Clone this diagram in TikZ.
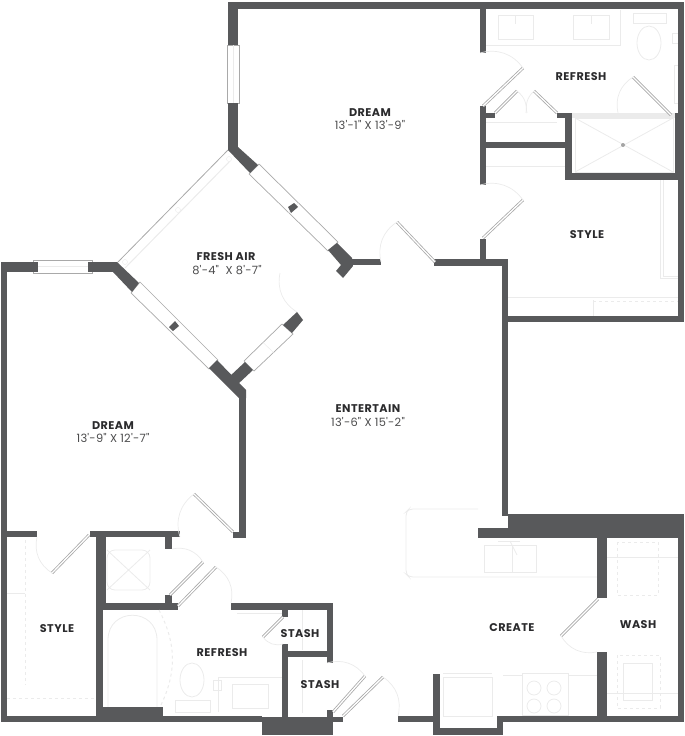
\documentclass[tikz,border=0pt]{standalone}
\usepackage{fontspec}
\newfontfamily\roomfont{Poppins}[LetterSpace=4]
\newfontfamily\sizefont{Poppins}[LetterSpace=2]
\definecolor{wallgrey}{HTML}{58595B}
\definecolor{inkgrey}{HTML}{2B2B2D}
\definecolor{leafgrey}{HTML}{A9A9A9}
\definecolor{fixgrey}{HTML}{EBEBEB}
\tikzset{
    wall/.style={fill=wallgrey,draw=none},
    leaf/.style={draw=leafgrey,double=white,double distance=1.3pt,line width=0.8pt},
    swing/.style={draw=fixgrey,line width=0.7pt},
    fix/.style={draw=fixgrey,line width=0.8pt},
    glass/.style={draw=leafgrey,fill=white,line width=0.7pt},
    roomname/.style={font=\roomfont\bfseries\fontsize{11.2}{13}\selectfont,text=inkgrey,inner sep=0pt,yshift=-1pt},
    roomsize/.style={font=\sizefont\fontsize{11.4}{13}\selectfont,text=inkgrey!85,inner sep=0pt,yshift=-1pt},
}
\newcommand{\wallbox}[2]{
    \fill[wall] (#1) rectangle (#2);
}
\newcommand{\pane}[4]{
    \draw[glass] (#1) -- (#2) -- (#3) -- (#4) -- cycle;
    \draw[fixgrey] ($(#1)!0.5!(#4)$) -- ($(#2)!0.5!(#3)$);
}
\usetikzlibrary{calc}

\begin{document}
\begin{tikzpicture}[x=1pt,y=-1pt]
    \useasboundingbox (0,0) rectangle (685,736);
    % fixtures
    \begin{scope}[fix]
        \draw (486,45) -- (620,45) -- (620,10);
        \draw (498,15) rectangle (533,39);
        \draw (573,15) rectangle (609,39);
        \draw (515,15) -- (515,24);
        \draw (591,15) -- (591,24);
        \draw (633,13) rectangle (666,23);
        \draw (649,43) ellipse (12 and 17);
        \draw (672,33) rectangle (678,43);
        \draw (674,65) rectangle (678,103);
        \fill[fixgrey] (572,113) rectangle (675,118);
        \draw (575,118) rectangle (673,172);
        \draw (575,118) -- (673,172);
        \draw (575,172) -- (673,118);
        \fill[fixgrey!70!black] (623,145) circle (2);
        \draw (486,122) -- (557,122);
        \draw (486,166) -- (565,166);
        \draw (660,180) -- (660,278) -- (678,278);
        \draw (663,180) -- (663,276) -- (678,276);
        \draw (508,297) -- (678,297);
        \draw[dashed] (593,301) -- (678,301);
        \draw (593,300) -- (593,316);
        \draw[rounded corners=4] (478,509) -- (409,509) -- (406,512) -- (406,574) -- (409,577) -- (597,577);
        \draw (484,545) rectangle (536,572);
        \draw (512,545) -- (512,572);
        \draw (498,541) -- (520,541);
        \draw (510,541) -- (517,555);
        \draw (522,673) rectangle (568,715);
        \foreach \bx in {534,554} {
            \foreach \by in {688,706} {
                \draw (\bx,\by) circle (7);
            }
        }
        \draw (503,675) -- (522,675);
        \draw (568,675) -- (597,675);
        \draw (443,677) rectangle (492,716);
        \draw (443,673) -- (492,673);
        \draw[dashed] (617,542) rectangle (658,595);
        \draw (607,557) -- (678,557);
        \draw[dashed] (617,655) rectangle (660,708);
        \draw (623,663) rectangle (652,700);
        \draw (607,693) -- (678,693);
        \draw (108,707) -- (108,640) .. controls (108,607) and (157,607) .. (157,640) -- (157,707);
        \draw (192,680) ellipse (12 and 17);
        \draw (175,700) rectangle (210,712);
        \draw (218,712) -- (218,677) -- (282,677);
        \draw (232,684) rectangle (268,708);
        \draw (213,680) rectangle (221,690);
        \draw (237,613) -- (282,613);
        \draw (302,610) -- (302,650);
        \draw (302,660) -- (302,713);
        \draw (7,593) -- (25,593);
        \draw[dashed] (25,540) -- (25,685);
        \draw[dashed] (7,698) -- (96,698);
        \draw[rounded corners=8] (107,550) rectangle (150,590);
        \draw (107,550) -- (150,590);
        \draw (107,590) -- (150,550);
    \end{scope}
    % windows
    \draw[glass] (227,45) rectangle (239,103);
    \draw[fixgrey] (233,45) -- (233,103);
    \draw[glass] (33,260) rectangle (92,273);
    \draw[fixgrey] (33,266) -- (92,266);
    \pane{140,282}{131,293}{209,369}{218,360}
    \pane{259,164}{249,174}{328,251}{338,242}
    \pane{282,324}{293,334}{254,371}{244,361}
    \draw[leafgrey,line width=0.8pt] (228,150) -- (118,262);
    \draw[fixgrey,line width=1pt] (125,268) -- (231,160);
    \draw[fixgrey,fill=white] (229,159) circle (2.5);
    \draw[fixgrey,fill=white] (178,210) circle (2.5);
    \draw[fixgrey,fill=white] (125,262) circle (2.5);
    % walls
    \wallbox{1,262}{7,722}
    \wallbox{1,262}{38,272}
    \wallbox{88,262}{117,272}
    \fill[wall] (117,262) -- (139,283) -- (132,292) -- (113,272) -- cycle;
    \fill[wall] (217,360) -- (246,390) -- (246,398) -- (239,398) -- (209,368) -- cycle;
    \fill[wall] (245,362) -- (253,370) -- (237,385) -- (229,377) -- cycle;
    \fill[wall] (283,325) -- (292,333) -- (303,320) -- (297,312) -- cycle;
    \wallbox{239,395}{246,538}
    \wallbox{233,532}{246,538}
    \wallbox{228,2}{238,45}
    \wallbox{228,103}{238,150}
    \fill[wall] (228,150) -- (238,147) -- (258,165) -- (250,173) -- cycle;
    \fill[wall] (337,243) -- (352,258) -- (353,266) -- (343,278) -- (336,271) -- (341,265) -- (328,250) -- cycle;
    \wallbox{350,259}{381,265}
    \fill[wall] (288,207) -- (291,213) -- (298,207) -- (294,203) -- cycle;
    \fill[wall] (169,327) -- (173,331) -- (179,326) -- (175,321) -- cycle;
    \wallbox{228,2}{684,9}
    \wallbox{678,2}{684,322}
    \wallbox{480,2}{486,53}
    \wallbox{480,106}{486,185}
    \wallbox{485,113}{495,118}
    \wallbox{485,142}{565,148}
    \wallbox{557,113}{572,118}
    \wallbox{565,113}{572,180}
    \wallbox{565,173}{684,180}
    \wallbox{675,113}{684,180}
    \wallbox{480,239}{486,262}
    \wallbox{434,259}{508,266}
    \wallbox{502,259}{508,516}
    \wallbox{502,316}{684,322}
    \wallbox{508,514}{684,538}
    \wallbox{478,528}{508,538}
    \wallbox{678,538}{684,722}
    \wallbox{597,538}{607,598}
    \wallbox{597,652}{607,722}
    \wallbox{497,716}{684,722}
    \wallbox{433,674}{440,735}
    \wallbox{433,728}{503,735}
    \wallbox{497,716}{503,735}
    \wallbox{398,716}{433,722}
    \wallbox{1,716}{262,722}
    \wallbox{262,717}{333,735}
    \wallbox{327,710}{333,722}
    \wallbox{333,717}{343,722}
    \wallbox{7,531}{37,537}
    \wallbox{90,531}{180,537}
    \wallbox{165,537}{172,549}
    \wallbox{96,531}{106,610}
    \wallbox{96,610}{103,717}
    \wallbox{103,603}{178,610}
    \wallbox{165,595}{172,610}
    \wallbox{231,603}{333,610}
    \wallbox{327,603}{333,663}
    \wallbox{282,610}{288,617}
    \wallbox{282,644}{288,717}
    \wallbox{288,651}{327,657}
    \wallbox{103,707}{163,717}
    % doors
    \draw[leaf] (233,532) -- (194,494);
    \draw[swing] (194,494) to[bend right=35] (180,537);
    \draw[leaf] (89,535) -- (52,573);
    \draw[swing] (37,537) to[bend right=35] (52,573);
    \draw[leaf] (170,595) -- (203,562);
    \draw[swing] (172,549) to[bend left=35] (203,562);
    \draw[leaf] (178,606) -- (216,567);
    \draw[swing] (216,567) to[bend left=35] (231,603);
    \draw[swing,dashed,line width=1pt] (159,610) to[bend left=27] (160,707);
    \draw[leaf] (283,617) -- (263,637);
    \draw[swing] (263,637) to[bend right=35] (283,644);
    \draw[leaf] (333,712) -- (365,676);
    \draw[swing] (327,663) to[bend left=35] (365,676);
    \draw[leaf] (343,716) -- (383,677);
    \draw[swing] (383,677) to[bend left=35] (398,716);
    \draw[leaf] (598,599) -- (561,636);
    \draw[swing] (561,636) to[bend right=35] (597,652);
    \draw[leaf] (483,106) -- (523,68);
    \draw[swing] (480,53) to[bend left=35] (523,68);
    \draw[leaf] (495,113) -- (517,91);
    \draw[swing] (517,91) to[bend left=30] (526,113);
    \draw[leaf] (557,113) -- (534,91);
    \draw[swing] (534,91) to[bend right=30] (527,113);
    \draw[leaf] (671,115) -- (633,77);
    \draw[swing] (618,113) to[bend left=35] (633,77);
    \draw[leaf] (483,238) -- (523,200);
    \draw[swing] (480,185) to[bend left=35] (523,200);
    \draw[leaf] (435,262) -- (397,222);
    \draw[swing] (381,262) to[bend left=35] (397,222);
    \draw[leaf] (337,273) -- (280,273);
    \draw[swing] (280,273) to[bend right=35] (297,312);
    % labels
    \node[roomname] (dreamtop) at (370,112) {DREAM};
    \node[roomsize] (dreamtopsize) at (370,124) {13'-1" X 13'-9"};
    \node[roomname] (freshair) at (226,256) {FRESH AIR};
    \node[roomsize] (freshairsize) at (227,269) {8'-4"\ \ X 8'-7"};
    \node[roomname] (dreamleft) at (113,425) {DREAM};
    \node[roomsize] (dreamleftsize) at (113,437) {13'-9" X 12'-7"};
    \node[roomname] (entertain) at (368,408) {ENTERTAIN};
    \node[roomsize] (entertainsize) at (368,421) {13'-6" X 15'-2"};
    \node[roomname] (refreshtop) at (581,76) {REFRESH};
    \node[roomname] (styletop) at (587,234) {STYLE};
    \node[roomname] (wash) at (638,624) {WASH};
    \node[roomname] (create) at (512,627) {CREATE};
    \node[roomname] (styleleft) at (57,628) {STYLE};
    \node[roomname] (refreshleft) at (222,652) {REFRESH};
    \node[roomname] (stashone) at (300,633) {STASH};
    \node[roomname] (stashtwo) at (320,684) {STASH};
\end{tikzpicture}
\end{document}
